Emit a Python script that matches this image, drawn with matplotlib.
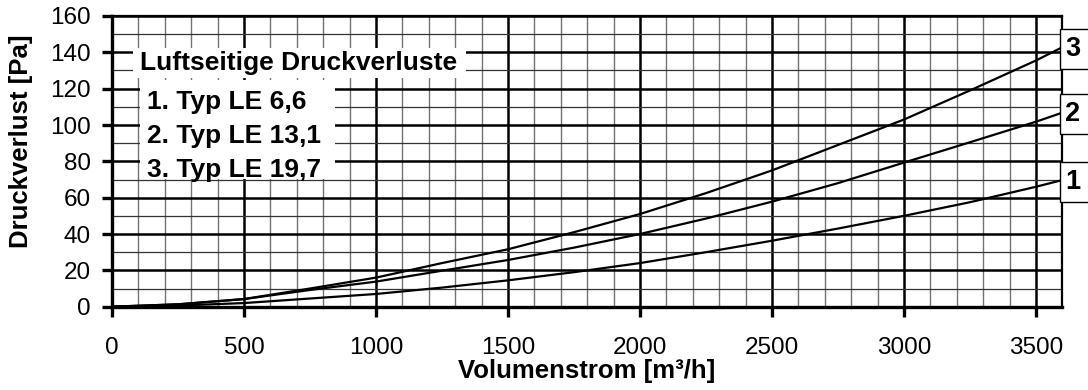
import matplotlib
matplotlib.use("Agg")
import matplotlib.pyplot as plt
import matplotlib.transforms as mtransforms
from matplotlib.patches import Rectangle
from matplotlib.ticker import MultipleLocator

plt.rcParams["font.family"] = ["Liberation Sans", "DejaVu Sans"]

# Volume flow [m3/h] and pressure drop [Pa] for the three types
volumenstrom = [0, 250, 500, 750, 1000, 1250, 1500, 1750, 2000,
                2250, 2500, 2750, 3000, 3250, 3500, 3600]
le_6_6 = [0, 0.6, 2.0, 4.5, 7.0, 10.5, 14.5, 19.0, 24.0,
          30.0, 36.3, 43.0, 50.0, 57.5, 66.0, 69.7]
le_13_1 = [0, 1.3, 4.2, 9.2, 13.8, 19.8, 25.7, 32.5, 40.0,
           48.5, 57.8, 68.0, 79.3, 90.5, 101.8, 106.8]
le_19_7 = [0, 1.3, 4.2, 10.0, 16.0, 24.0, 31.6, 41.0, 51.0,
           62.5, 75.0, 89.0, 103.0, 119.0, 135.5, 142.8]

series = [le_6_6, le_13_1, le_19_7]
kurven_nr = ["1", "2", "3"]
legenden_titel = "Luftseitige Druckverluste"
legenden_zeilen = ["1. Typ LE 6,6", "2. Typ LE 13,1", "3. Typ LE 19,7"]

fig = plt.figure(figsize=(10.88, 3.90), dpi=100)
ax = fig.add_axes([0.1029, 0.2136, 0.8735, 0.7454])

for werte in series:
    ax.plot(volumenstrom, werte, color="black", lw=1.6, zorder=4,
            solid_joinstyle="round")

ax.set_xlim(0, 3600)
ax.set_ylim(0, 160)
ax.xaxis.set_major_locator(MultipleLocator(500))
ax.xaxis.set_minor_locator(MultipleLocator(100))
ax.yaxis.set_major_locator(MultipleLocator(20))
ax.yaxis.set_minor_locator(MultipleLocator(10))

ax.xaxis.grid(True, which="major", color="black", lw=1.8)
ax.yaxis.grid(True, which="major", color="black", lw=1.8)
ax.xaxis.grid(True, which="minor", color="0.45", lw=1.0)
ax.yaxis.grid(True, which="minor", color="0.2", lw=0.9)
ax.set_axisbelow(True)

for side in ("left", "bottom"):
    ax.spines[side].set_linewidth(2.4)
for side in ("top", "right"):
    ax.spines[side].set_linewidth(1.6)

ax.tick_params(which="major", direction="out", length=7, width=2.4,
               labelsize=17.5, color="black")
ax.tick_params(axis="x", which="major", pad=15)
ax.tick_params(axis="y", which="major", pad=8)
ax.tick_params(which="minor", length=0)

ax.set_xlabel("Volumenstrom [m³/h]", fontsize=18.5, fontweight="bold")
ax.set_ylabel("Druckverlust [Pa]", fontsize=18.5, fontweight="bold")
ax.xaxis.set_label_coords(0.5, -0.18)
ax.yaxis.set_label_coords(-0.083, 0.57)

# legend block: white panels over the grid, plain bold text
ax.add_patch(Rectangle((0.022, 0.787), 0.351, 0.103, transform=ax.transAxes,
                       facecolor="white", edgecolor="none", zorder=5))
ax.add_patch(Rectangle((0.030, 0.440), 0.205, 0.340, transform=ax.transAxes,
                       facecolor="white", edgecolor="none", zorder=5))
ax.text(0.029, 0.838, legenden_titel, transform=ax.transAxes,
        fontsize=19, fontweight="bold", va="center", ha="left", zorder=6)
for i, zeile in enumerate(legenden_zeilen):
    ax.text(0.037, 0.705 - i * 0.118, zeile, transform=ax.transAxes,
            fontsize=19, fontweight="bold", va="center", ha="left", zorder=6)

# curve numbers in framed boxes at the right edge
rand = mtransforms.blended_transform_factory(ax.transAxes, ax.transData)
for werte, nr in zip(series, kurven_nr):
    y_end = werte[-1] - 1
    ax.add_patch(Rectangle((0.9977, y_end - 11), 0.06, 22, transform=rand,
                           facecolor="white", edgecolor="black", lw=1.0,
                           clip_on=False, zorder=6))
    ax.text(1.003, y_end, nr, transform=rand, fontsize=19.5,
            fontweight="bold", va="center", ha="left", zorder=7,
            clip_on=False)

fig.savefig("out.png", dpi=100)
